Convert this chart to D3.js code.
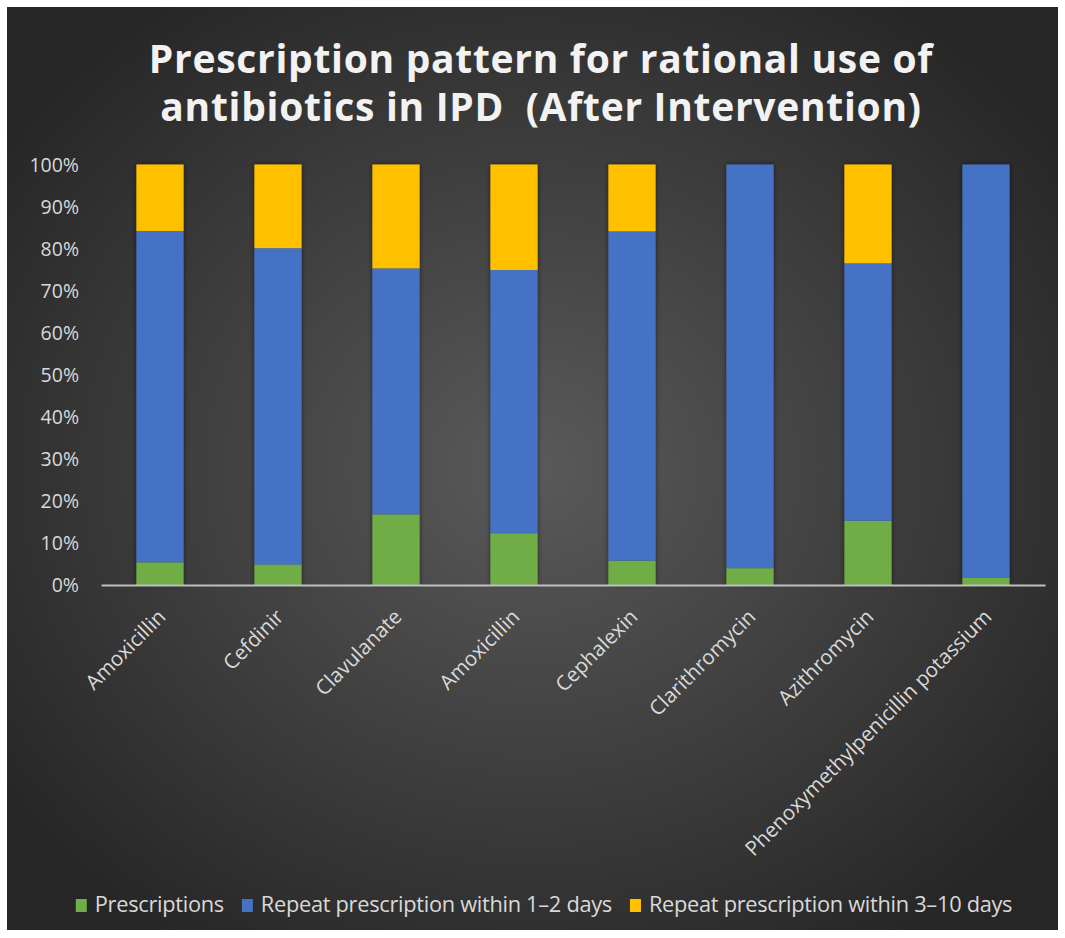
<!DOCTYPE html>
<html>
<head>
<meta charset="utf-8">
<script src="https://cdn.jsdelivr.net/npm/d3@7"></script>
<style>
  html, body { margin: 0; padding: 0; background: #ffffff; }
  svg { display: block; }
  .title { white-space: pre; }
</style>
</head>
<body>
<svg id="chart" width="1065" height="938"></svg>
<script>
// Antibiotic categories along the x axis
const categories = [
  "Amoxicillin", "Cefdinir", "Clavulanate", "Amoxicillin",
  "Cephalexin", "Clarithromycin", "Azithromycin",
  "Phenoxymethylpenicillin potassium"
];

// Share of each series per antibiotic (percent, stacks sum to 100)
const prescriptions   = [5.4, 4.9, 16.8, 12.3, 5.8, 4.0, 15.3, 1.8];
const repeat1to2days  = [78.8, 75.2, 58.5, 62.6, 78.3, 96.0, 61.2, 98.2];
const repeat3to10days = [15.8, 19.9, 24.7, 25.1, 15.9, 0.0, 23.5, 0.0];

const seriesNames = [
  "Prescriptions",
  "Repeat prescription within 1\u20132 days",
  "Repeat prescription within 3\u201310 days"
];
const seriesColors = ["#70ad47", "#4472c4", "#ffc000"];

const yTicks = [0, 10, 20, 30, 40, 50, 60, 70, 80, 90, 100];

const titleLines = [
  "Prescription pattern for rational use of",
  "antibiotics in IPD  (After Intervention)"
];

const W = 1065, H = 938;
const svg = d3.select("#chart");
const defs = svg.append("defs");

// Dark radial background of the chart area
const grad = defs.append("radialGradient")
  .attr("id", "bg").attr("cx", "50%").attr("cy", "50%").attr("r", "62%");
grad.append("stop").attr("offset", "0%").attr("stop-color", "#5a5a5a");
grad.append("stop").attr("offset", "100%").attr("stop-color", "#262626");

// Soft shadow under the bars
const shadow = defs.append("filter").attr("id", "shadow")
  .attr("x", "-20%").attr("y", "-5%").attr("width", "140%").attr("height", "110%");
shadow.append("feDropShadow").attr("dx", 0).attr("dy", 0)
  .attr("stdDeviation", 2.5).attr("flood-color", "#000").attr("flood-opacity", 0.55);

svg.append("rect")
  .attr("x", 7).attr("y", 7).attr("width", 1051).attr("height", 923)
  .attr("fill", "url(#bg)");

// Title
svg.append("g").selectAll("text").data(titleLines).join("text")
  .attr("class", "title")
  .attr("x", 541)
  .attr("y", (d, i) => 73 + i * 48)
  .attr("text-anchor", "middle")
  .attr("fill", "#f2f2f2")
  .attr("font-family", "'Open Sans', sans-serif")
  .attr("font-weight", "bold")
  .attr("font-size", 39)
  .attr("letter-spacing", 0.7)
  .text(d => d);

// Scales
const x = d3.scaleBand().domain(d3.range(categories.length))
  .range([101, 1045]).paddingInner(0.6).paddingOuter(0.3);
const y = d3.scaleLinear().domain([0, 100]).range([585, 164.5]);

// Stack the three series
const rows = categories.map((c, i) => ({
  i,
  s0: prescriptions[i],
  s1: repeat1to2days[i],
  s2: repeat3to10days[i]
}));
const stack = d3.stack().keys(["s0", "s1", "s2"]);
const stacked = stack(rows);

const barsG = svg.append("g").attr("filter", "url(#shadow)");
barsG.selectAll("g").data(stacked).join("g")
  .attr("fill", (d, k) => seriesColors[k])
  .selectAll("rect").data(d => d).join("rect")
  .attr("x", d => x(d.data.i))
  .attr("width", x.bandwidth())
  .attr("y", d => y(d[1]))
  .attr("height", d => Math.max(0, y(d[0]) - y(d[1])));

// Y axis (labels only)
const yAxis = d3.axisLeft(y).tickValues(yTicks).tickFormat(d => d + "%").tickSize(0).tickPadding(0);
const yG = svg.append("g").attr("transform", "translate(79,0)").call(yAxis);
yG.select(".domain").remove();
yG.selectAll("text")
  .attr("fill", "#d9d9d9")
  .attr("font-family", "'Open Sans', sans-serif")
  .attr("font-size", 19.5)
  .attr("dy", "0.35em");

// X axis line and rotated labels
const xAxis = d3.axisBottom(x).tickFormat(i => categories[i]).tickSize(0).tickPadding(0);
const xG = svg.append("g").attr("transform", "translate(0,585)").call(xAxis);
xG.select(".domain")
  .attr("stroke", "#bfbfbf").attr("stroke-width", 2);
xG.selectAll(".tick text")
  .attr("fill", "#d9d9d9")
  .attr("font-family", "'Open Sans', sans-serif")
  .attr("font-size", 20.5)
  .attr("text-anchor", "end")
  .attr("dy", 0)
  .attr("transform", "translate(7,33) rotate(-45)");

// Legend
const legend = svg.append("g").attr("transform", "translate(0,912)");
const items = legend.selectAll("g").data(seriesNames).join("g");
items.append("rect")
  .attr("width", 11).attr("height", 13).attr("y", -13)
  .attr("fill", (d, k) => seriesColors[k]);
items.append("text")
  .attr("x", 19).attr("y", 0)
  .attr("fill", "#d9d9d9")
  .attr("font-family", "'Open Sans', sans-serif")
  .attr("font-size", 21.8)
  .attr("letter-spacing", -0.3)
  .text(d => d);
const widths = [];
items.each(function() { widths.push(this.getBBox().width); });
const gap = 18;
const total = d3.sum(widths) + gap * (widths.length - 1);
let cx = 544 - total / 2;
items.attr("transform", (d, k) => {
  const t = `translate(${cx},0)`;
  cx += widths[k] + gap;
  return t;
});
</script>
</body>
</html>
